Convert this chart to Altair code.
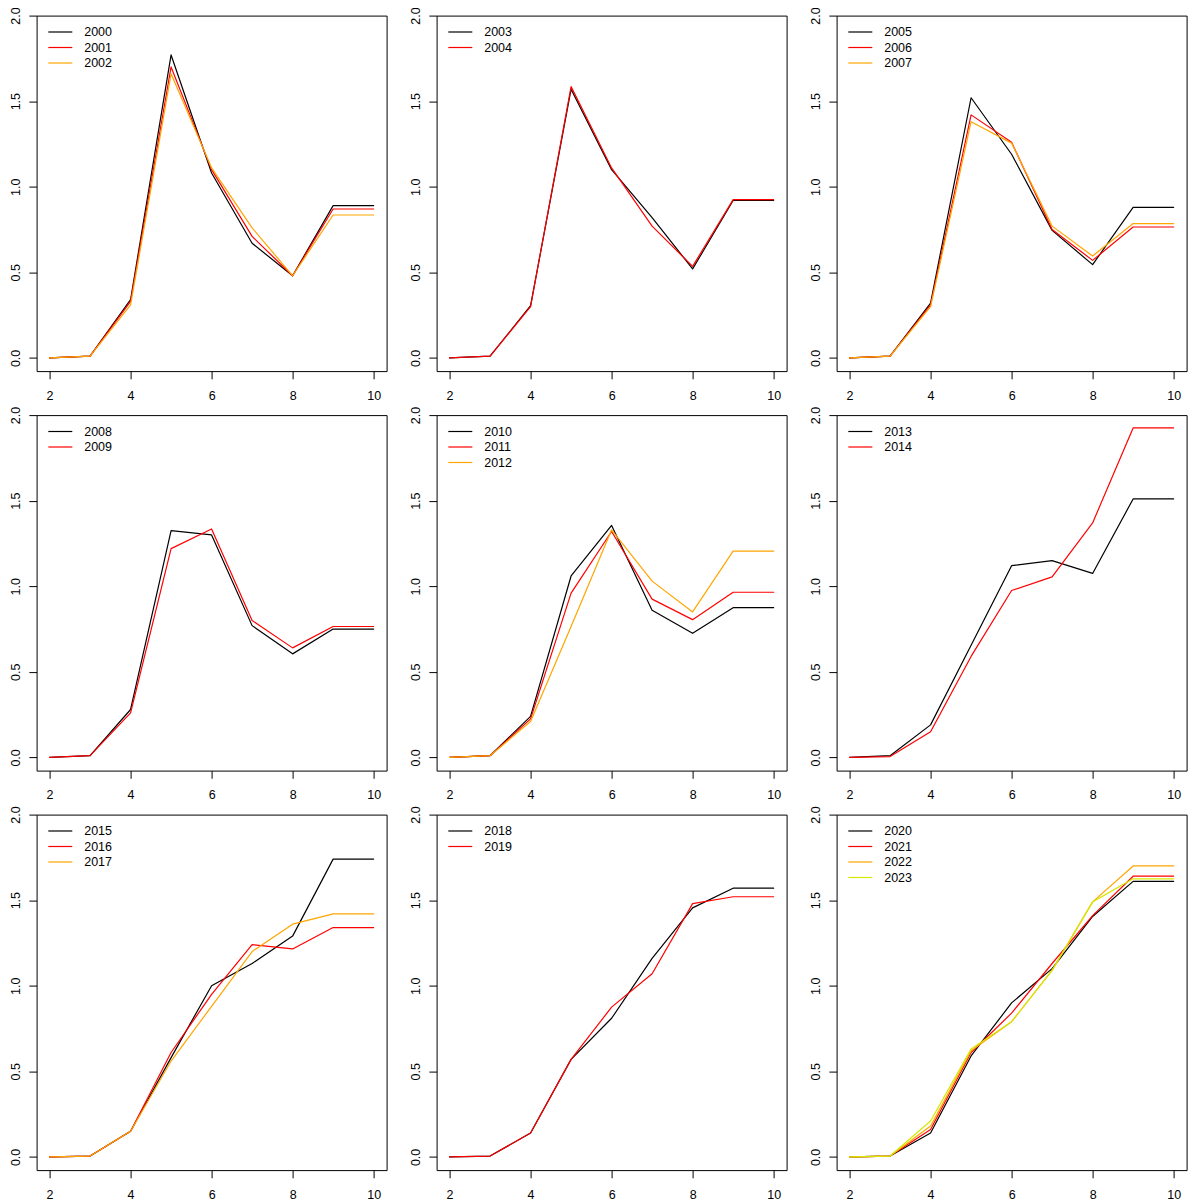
import altair as alt
import pandas as pd

# ---- data ----
X = [2, 3, 4, 5, 6, 7, 8, 9, 10]

y2000 = [0, 0.01, 0.34, 1.77, 1.08, 0.67, 0.48, 0.89, 0.89]
y2001 = [0, 0.01, 0.33, 1.70, 1.10, 0.71, 0.48, 0.87, 0.87]
y2002 = [0, 0.01, 0.31, 1.66, 1.11, 0.76, 0.48, 0.835, 0.835]
y2003 = [0, 0.01, 0.305, 1.57, 1.10, 0.82, 0.52, 0.92, 0.92]
y2004 = [0, 0.01, 0.30, 1.585, 1.11, 0.77, 0.535, 0.925, 0.925]
y2005 = [0, 0.01, 0.32, 1.52, 1.19, 0.745, 0.545, 0.88, 0.88]
y2006 = [0, 0.01, 0.31, 1.42, 1.26, 0.75, 0.57, 0.765, 0.765]
y2007 = [0, 0.01, 0.30, 1.38, 1.255, 0.77, 0.595, 0.785, 0.785]
y2008 = [0, 0.01, 0.28, 1.325, 1.30, 0.77, 0.605, 0.75, 0.75]
y2009 = [0, 0.01, 0.26, 1.22, 1.335, 0.80, 0.64, 0.765, 0.765]
y2010 = [0, 0.01, 0.24, 1.06, 1.355, 0.86, 0.725, 0.875, 0.875]
y2011 = [0, 0.01, 0.225, 0.96, 1.32, 0.925, 0.805, 0.965, 0.965]
y2012 = [0, 0.01, 0.21, 0.765, 1.33, 1.03, 0.85, 1.205, 1.205]
y2013 = [0, 0.01, 0.19, 0.655, 1.12, 1.15, 1.075, 1.51, 1.51]
y2014 = [0, 0.005, 0.15, 0.59, 0.975, 1.055, 1.37, 1.925, 1.925]
y2015 = [0, 0.005, 0.15, 0.58, 1.00, 1.13, 1.29, 1.74, 1.74]
y2016 = [0, 0.005, 0.15, 0.61, 0.95, 1.24, 1.215, 1.34, 1.34]
y2017 = [0, 0.005, 0.15, 0.56, 0.88, 1.20, 1.36, 1.42, 1.42]
y2018 = [0, 0.005, 0.14, 0.57, 0.81, 1.16, 1.455, 1.57, 1.57]
y2019 = [0, 0.005, 0.14, 0.57, 0.875, 1.07, 1.48, 1.52, 1.52]
y2020 = [0, 0.005, 0.14, 0.59, 0.90, 1.10, 1.405, 1.61, 1.61]
y2021 = [0, 0.005, 0.16, 0.61, 0.84, 1.13, 1.41, 1.64, 1.64]
y2022 = [0, 0.005, 0.18, 0.62, 0.79, 1.09, 1.49, 1.70, 1.70]
y2023 = [0, 0.005, 0.21, 0.63, 0.79, 1.09, 1.49, 1.625, 1.625]

PANELS = [
    [2000, 2001, 2002], [2003, 2004], [2005, 2006, 2007],
    [2008, 2009], [2010, 2011, 2012], [2013, 2014],
    [2015, 2016, 2017], [2018, 2019], [2020, 2021, 2022, 2023],
]
COLORS = ["#000000", "#FF0000", "#FFA500", "#D4E800"]
X_TICKS = [2, 4, 6, 8, 10]
Y_TICKS = [0.0, 0.5, 1.0, 1.5, 2.0]

SERIES = {
    2000: y2000, 2001: y2001, 2002: y2002, 2003: y2003, 2004: y2004,
    2005: y2005, 2006: y2006, 2007: y2007, 2008: y2008, 2009: y2009,
    2010: y2010, 2011: y2011, 2012: y2012, 2013: y2013, 2014: y2014,
    2015: y2015, 2016: y2016, 2017: y2017, 2018: y2018, 2019: y2019,
    2020: y2020, 2021: y2021, 2022: y2022, 2023: y2023,
}

# ---- styling ----
FONT = "Liberation Sans"
FS = 12.5
W, H = 350, 355.5

xscale = alt.Scale(domain=[1.68, 10.32], nice=False, zero=False)
yscale = alt.Scale(domain=[-0.077, 2.0], nice=False, zero=False)

xaxis = alt.Axis(values=X_TICKS, title=None, grid=False, domain=False,
                 tickSize=7.7, tickColor="black", tickWidth=1,
                 labelFont=FONT, labelFontSize=FS, labelColor="black",
                 labelPadding=10.5, labelAngle=0, labelAlign="center",
                 labelBaseline="top", labelFlush=False, labelOverlap=False)
yaxis = alt.Axis(values=Y_TICKS, format=".1f", title=None, grid=False, domain=False,
                 tickSize=7.7, tickColor="black", tickWidth=1,
                 labelFont=FONT, labelFontSize=FS, labelColor="black",
                 labelPadding=9.8, labelAngle=270, labelAlign="center",
                 labelBaseline="alphabetic", labelFlush=False, labelOverlap=False)


def panel(years):
    layers = []
    for i, yr in enumerate(years):
        df = pd.DataFrame({"x": X, "y": SERIES[yr]})
        layers.append(
            alt.Chart(df).mark_line(stroke=COLORS[i], color=COLORS[i], strokeWidth=1.2,
                                    strokeJoin="round", strokeCap="round")
            .encode(x=alt.X("x:Q", scale=xscale, axis=xaxis),
                    y=alt.Y("y:Q", scale=yscale, axis=yaxis))
        )
    # legend (top-left, inside the box), one row per series
    leg = pd.DataFrame({
        "label": [str(y) for y in years],
        "col": COLORS[:len(years)],
        "idx": list(range(len(years))),
    })
    base = alt.Chart(leg).transform_calculate(
        py="16.4 + 15.5 * datum.idx", ty="20.9 + 15.5 * datum.idx"
    )
    layers.append(
        base.mark_rule(strokeWidth=1.2).encode(
            x=alt.value(11.7), x2=alt.value(35.7),
            y=alt.Y("py:Q", scale=None, axis=None),
            stroke=alt.Stroke("col:N", scale=None, legend=None),
        )
    )
    layers.append(
        base.mark_text(align="left", baseline="alphabetic", font=FONT,
                       fontSize=FS, color="black").encode(
            x=alt.value(47.6),
            y=alt.Y("ty:Q", scale=None, axis=None),
            text="label:N",
        )
    )
    return alt.layer(*layers).properties(width=W, height=H)


chart = alt.concat(
    *[panel(p) for p in PANELS],
    columns=3,
    spacing={"row": 43.5, "column": 50},
    bounds="flush",
).properties(
    padding={"left": 0.6, "top": -2.4, "right": 4, "bottom": 0},
    background="white",
).configure_view(
    stroke="black", strokeWidth=1
)

chart.save("out.html", embed_options={"renderer": "svg", "actions": False})
